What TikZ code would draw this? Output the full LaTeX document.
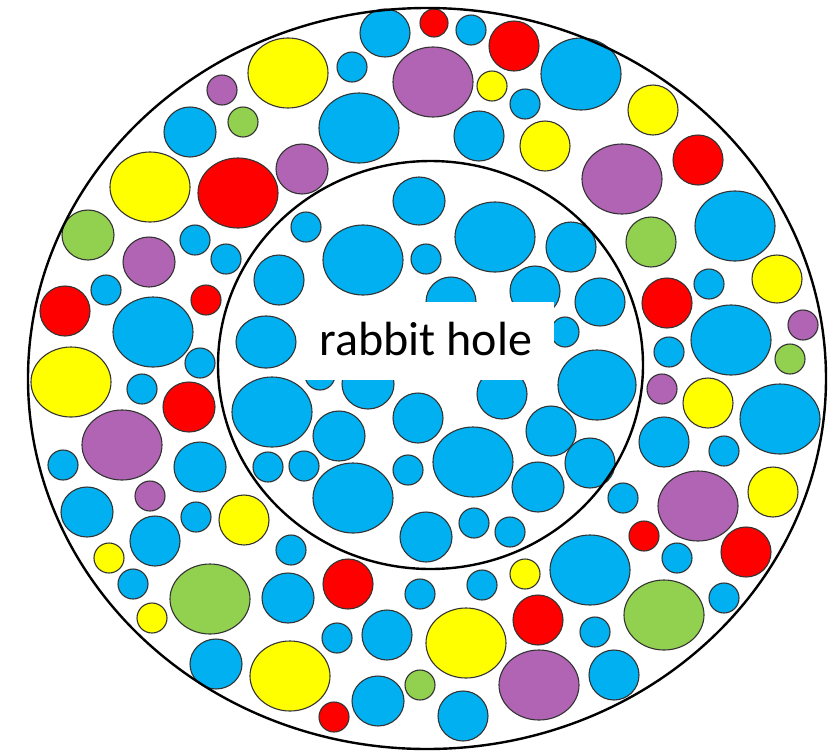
\documentclass[tikz,border=0pt]{standalone}
\usepackage{fontspec}
\setmainfont{Carlito}
\definecolor{cb}{RGB}{0,176,240}
\definecolor{cy}{RGB}{255,255,0}
\definecolor{cr}{RGB}{255,0,0}
\definecolor{cg}{RGB}{146,208,80}
\definecolor{cp}{RGB}{177,100,180}
\tikzset{bubble/.style={draw=black!80,line width=1.1pt},ring/.style={draw=black,line width=2.4pt}}
\newcommand\bub[5]{\filldraw[bubble,fill=#1] (#2,#3) ellipse [x radius=#4pt, y radius=#5pt];}
\begin{document}
\begin{tikzpicture}[x=1pt,y=-1pt]
\useasboundingbox (0,0) rectangle (838,753);
\fill[white] (0,0) rectangle (838,753);
% outer band
\bub{cb}{385}{33}{25}{24}
\bub{cr}{434}{23}{14}{14}
\bub{cb}{471}{30}{15}{15}
\bub{cr}{514}{46}{25}{25}
\bub{cb}{581}{74}{40}{36}
\bub{cy}{288}{73}{40}{35}
\bub{cb}{352}{67}{15}{15}
\bub{cp}{433}{82}{40}{35}
\bub{cp}{222}{90}{15}{15}
\bub{cy}{492}{86}{15}{15}
\bub{cb}{525}{104}{15}{15}
\bub{cb}{359}{128}{40}{35}
\bub{cg}{243}{122}{15}{15}
\bub{cb}{190}{132}{26}{25}
\bub{cb}{479}{136}{25}{25}
\bub{cy}{545}{146}{25}{25}
\bub{cy}{653}{110}{25}{25}
\bub{cr}{698}{160}{25}{25}
\bub{cp}{622}{179}{40}{35}
\bub{cp}{302}{169}{26}{25}
\bub{cy}{150}{187}{40}{35}
\bub{cr}{238}{193}{40}{35}
\bub{cb}{735}{226}{40}{35}
\bub{cg}{651}{242}{25}{25}
\bub{cg}{88}{235}{26}{25}
\bub{cb}{195}{240}{15}{15}
\bub{cp}{149}{262}{26}{25}
\bub{cb}{226}{259}{15}{15}
\bub{cy}{777}{279}{25}{24}
\bub{cb}{709}{284}{15}{15}
\bub{cr}{667}{303}{25}{25}
\bub{cb}{106}{290}{15}{15}
\bub{cr}{65}{311}{25}{25}
\bub{cr}{206}{300}{15}{15}
\bub{cb}{153}{332}{40}{35}
\bub{cp}{803}{325}{15}{15}
\bub{cb}{731}{340}{40}{35}
\bub{cb}{669}{352}{15}{15}
\bub{cg}{790}{359}{15}{15}
\bub{cb}{200}{363}{15}{15}
\bub{cy}{71}{382}{40}{35}
\bub{cb}{142}{389}{15}{15}
\bub{cp}{662}{389}{15}{15}
\bub{cy}{708}{403}{25}{25}
\bub{cb}{780}{419}{40}{35}
\bub{cr}{189}{407}{26}{25}
\bub{cp}{122}{445}{40}{35}
\bub{cb}{63}{465}{15}{15}
\bub{cb}{200}{467}{26}{25}
\bub{cb}{664}{442}{25}{25}
\bub{cb}{724}{451}{15}{15}
\bub{cp}{150}{496}{15}{15}
\bub{cb}{87}{512}{26}{25}
\bub{cb}{196}{517}{15}{15}
\bub{cy}{244}{520}{25}{25}
\bub{cb}{623}{498}{15}{15}
\bub{cp}{698}{506}{40}{35}
\bub{cy}{773}{492}{25}{25}
\bub{cb}{155}{541}{25}{25}
\bub{cy}{109}{558}{15}{15}
\bub{cb}{291}{550}{15}{15}
\bub{cr}{644}{536}{15}{15}
\bub{cb}{677}{558}{15}{15}
\bub{cr}{746}{552}{25}{25}
\bub{cb}{133}{584}{15}{15}
\bub{cg}{210}{599}{40}{35}
\bub{cb}{288}{598}{26}{25}
\bub{cr}{348}{584}{25}{25}
\bub{cb}{420}{594}{15}{15}
\bub{cb}{482}{585}{15}{15}
\bub{cy}{525}{574}{15}{15}
\bub{cb}{590}{570}{40}{35}
\bub{cb}{724}{598}{15}{15}
\bub{cg}{664}{615}{40}{35}
\bub{cy}{152}{618}{15}{15}
\bub{cb}{337}{638}{15}{15}
\bub{cb}{387}{635}{25}{25}
\bub{cr}{538}{620}{25}{25}
\bub{cb}{595}{632}{15}{15}
\bub{cy}{466}{643}{40}{35}
\bub{cb}{216}{664}{26}{25}
\bub{cy}{290}{676}{40}{35}
\bub{cg}{420}{685}{15}{15}
\bub{cb}{378}{701}{26}{25}
\bub{cr}{334}{717}{15}{15}
\bub{cp}{539}{685}{40}{35}
\bub{cb}{614}{675}{25}{25}
\bub{cb}{463}{716}{25}{25}
% inner disc
\bub{cb}{419}{201}{26}{24}
\bub{cb}{495}{237}{40}{35}
\bub{cb}{571}{247}{25}{25}
\bub{cb}{306}{227}{15}{15}
\bub{cb}{363}{260}{40}{35}
\bub{cb}{426}{259}{15}{15}
\bub{cb}{279}{280}{25}{25}
\bub{cb}{266}{342}{30}{26}
\bub{cb}{451}{302}{25}{25}
\bub{cb}{535}{291}{25}{25}
\bub{cb}{600}{302}{25}{24}
\bub{cb}{565}{332}{14}{15}
\bub{cb}{597}{385}{39}{35}
\bub{cb}{320}{375}{15}{15}
\bub{cb}{368}{384}{26}{25}
\bub{cb}{272}{412}{40}{35}
\bub{cb}{339}{436}{26}{25}
\bub{cb}{418}{418}{25}{25}
\bub{cb}{268}{467}{15}{15}
\bub{cb}{304}{466}{15}{15}
\bub{cb}{353}{498}{40}{35}
\bub{cb}{408}{470}{15}{15}
\bub{cb}{426}{537}{26}{25}
\bub{cb}{502}{394}{25}{25}
\bub{cb}{473}{462}{40}{35}
\bub{cb}{551}{431}{25}{25}
\bub{cb}{590}{463}{25}{25}
\bub{cb}{538}{487}{26}{25}
\bub{cb}{474}{523}{15}{15}
\bub{cb}{510}{532}{15}{15}
% rings
\draw[ring] (427,378.5) ellipse [x radius=399pt, y radius=370.5pt];
\draw[ring] (430.5,365) ellipse [x radius=212.5pt, y radius=204pt];
% label
\node[fill=white, inner sep=0pt, minimum width=256pt, minimum height=78pt] (box) at (426,341) {};
\node[anchor=base, inner sep=0pt, font=\fontsize{48}{48}\selectfont] (label) at (426,355) {rabbit hole};
\end{tikzpicture}
\end{document}
